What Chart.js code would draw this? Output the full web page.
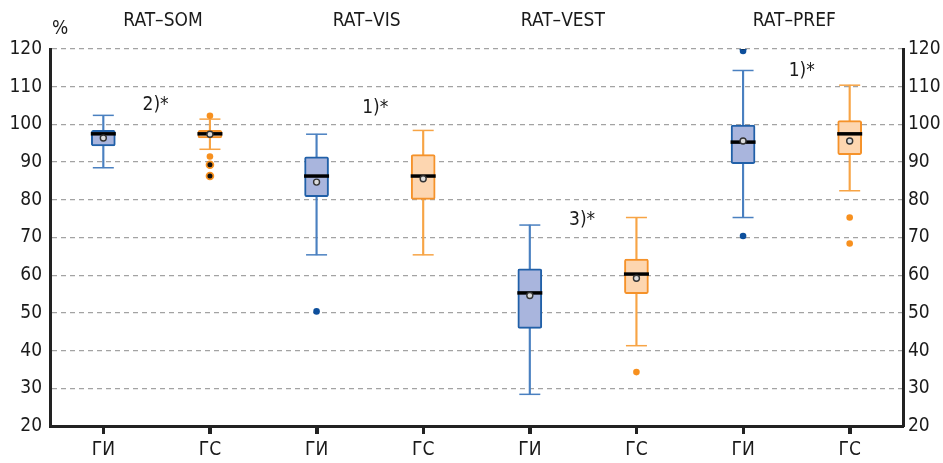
<!DOCTYPE html>
<html>
<head>
<meta charset="utf-8">
<script src="https://cdn.jsdelivr.net/npm/chart.js@4.4.1/dist/chart.umd.min.js"></script>
<style>
  html, body { margin: 0; padding: 0; background: #fff; }
</style>
</head>
<body>
<canvas id="chart" width="943" height="463"></canvas>
<script>
// categories along the x axis (two groups per test)
const categories = ["ГИ", "ГС", "ГИ", "ГС", "ГИ", "ГС", "ГИ", "ГС"];
const groupTitles = ["RAT–SOM", "RAT–VIS", "RAT–VEST", "RAT–PREF"];
const significance = ["2)*", "1)*", "3)*", "1)*"];

// box plot values, %
const whiskerLow = [88.5, 93.4, 65.4, 65.4, 28.4, 41.3, 75.3, 82.4];
const q1 = [94.3, 96.4, 80.8, 80.1, 45.9, 55.1, 89.6, 92.0];
const median = [97.5, 97.5, 86.3, 86.3, 55.3, 60.3, 95.3, 97.5];
const mean = [96.4, 97.4, 84.7, 85.6, 54.6, 59.2, 95.6, 95.6];
const q3 = [98.4, 98.4, 91.4, 92.0, 61.7, 64.3, 99.8, 101.0];
const whiskerHigh = [102.4, 101.4, 97.4, 98.4, 73.3, 75.3, 114.3, 110.4];
const outliers = [[], [102.3, 91.5], [50.4], [], [], [34.3], [119.5, 70.4], [75.3, 68.4]];
const extremes = [[], [89.3, 86.3], [], [], [], [], [120.5], []];

const yMin = 20;
const yMax = 120;
const yStep = 10;

// look
const FONT_FAMILY = "'Liberation Sans Narrow', 'DejaVu Sans Condensed', sans-serif";
const FONT_SIZE = 19;
const TEXT = "#1a1a1a";
const BLUE = { fill: "#a9b5dd", border: "#2160a8", whisker: "#4a80c0", dot: "#0d4f9c" };
const ORANGE = { fill: "#fdd6b0", border: "#f5922a", whisker: "#f7a445", dot: "#f7901e" };
const palette = categories.map((c) => (c === "ГИ" ? BLUE : ORANGE));

// where the texts sit (x in category index, y in %)
const titleAt = [0.56, 2.47, 4.31, 6.48];
const sigAt = [[0.49, 105], [2.55, 104.4], [4.49, 74.7], [6.55, 114.2]];

const idx = categories.map((_, i) => i);

const capPoints = [];
const capColors = [];
idx.forEach((i) => {
  capPoints.push({ x: i, y: whiskerLow[i] }, { x: i, y: whiskerHigh[i] });
  capColors.push(palette[i].whisker, palette[i].whisker);
});

const outlierPoints = [];
const outlierColors = [];
outliers.forEach((list, i) => list.forEach((v) => {
  outlierPoints.push({ x: i, y: v });
  outlierColors.push(palette[i].dot);
}));

const extremePoints = [];
const extremeColors = [];
extremes.forEach((list, i) => list.forEach((v) => {
  extremePoints.push({ x: i, y: v });
  extremeColors.push(palette[i].dot);
}));

const textPlugin = {
  id: "texts",
  afterDraw(chart) {
    const { ctx, chartArea, scales: { x, y } } = chart;
    ctx.save();
    // short tick marks under the category axis
    ctx.strokeStyle = "#222";
    ctx.lineWidth = 3;
    idx.forEach((i) => {
      const px = Math.round(x.getPixelForValue(i)) + 0.5;
      ctx.beginPath();
      ctx.moveTo(px, chartArea.bottom);
      ctx.lineTo(px, chartArea.bottom + 8);
      ctx.stroke();
    });
    ctx.fillStyle = TEXT;
    ctx.font = FONT_SIZE + "px " + FONT_FAMILY;
    ctx.textAlign = "center";
    ctx.textBaseline = "middle";
    groupTitles.forEach((t, i) => {
      ctx.fillText(t, x.getPixelForValue(titleAt[i]), 21);
    });
    significance.forEach((t, i) => {
      ctx.fillText(t, x.getPixelForValue(sigAt[i][0]), y.getPixelForValue(sigAt[i][1]));
    });
    ctx.fillText("%", 60, 29);
    ctx.restore();
  },
};

new Chart(document.getElementById("chart"), {
  type: "bar",
  data: {
    datasets: [
      {
        label: "whiskers",
        data: idx.map((i) => ({ x: i, y: [whiskerLow[i], whiskerHigh[i]] })),
        backgroundColor: palette.map((p) => p.whisker),
        barThickness: 1.5,
        grouped: false,
        order: 6,
      },
      {
        label: "boxes",
        data: idx.map((i) => ({ x: i, y: [q1[i], q3[i]] })),
        backgroundColor: palette.map((p) => p.fill),
        borderColor: palette.map((p) => p.border),
        borderWidth: 2,
        borderSkipped: false,
        borderRadius: 2,
        barThickness: 24,
        grouped: false,
        order: 5,
      },
      {
        type: "scatter",
        label: "caps",
        data: capPoints,
        pointStyle: "line",
        radius: 10.5,
        borderWidth: 1.5,
        borderColor: capColors,
        order: 4,
      },
      {
        type: "scatter",
        label: "median",
        data: idx.map((i) => ({ x: i, y: median[i] })),
        pointStyle: "line",
        radius: 12.5,
        borderWidth: 3.5,
        borderColor: "#000",
        order: 3,
      },
      {
        type: "scatter",
        label: "mean",
        data: idx.map((i) => ({ x: i, y: mean[i] })),
        pointStyle: "circle",
        radius: 3,
        backgroundColor: "#dcdcdc",
        borderColor: "#333",
        borderWidth: 1.4,
        order: 2,
      },
      {
        type: "scatter",
        label: "outliers",
        data: outlierPoints,
        radius: 3.3,
        backgroundColor: outlierColors,
        borderWidth: 0,
        order: 1,
      },
      {
        type: "scatter",
        label: "extremes",
        data: extremePoints,
        radius: 3.4,
        backgroundColor: "#111",
        borderColor: extremeColors,
        borderWidth: 1.8,
        order: 0,
      },
    ],
  },
  options: {
    responsive: false,
    animation: false,
    layout: { padding: { top: 49, left: 0, right: 0, bottom: 0 } },
    plugins: {
      legend: { display: false },
      tooltip: { enabled: false },
    },
    scales: {
      x: {
        type: "linear",
        min: -0.5,
        max: 7.5,
        offset: false,
        afterBuildTicks: (s) => {
          s.ticks = idx.map((i) => ({ value: i }));
        },
        afterFit: (s) => {
          s.height = 37;
        },
        ticks: {
          autoSkip: false,
          maxRotation: 0,
          padding: 5,
          color: TEXT,
          font: { family: FONT_FAMILY, size: FONT_SIZE },
          callback: (v, i) => categories[i],
        },
        grid: {
          offset: false,
          drawOnChartArea: false,
          drawTicks: true,
          tickLength: 8,
          tickWidth: 3,
          tickColor: "#222",
        },
        border: { color: "#222", width: 3 },
      },
      y: {
        position: "left",
        min: yMin,
        max: yMax,
        afterFit: (s) => {
          s.width = 50;
        },
        ticks: {
          stepSize: yStep,
          padding: 8,
          color: TEXT,
          font: { family: FONT_FAMILY, size: FONT_SIZE },
        },
        grid: {
          drawTicks: false,
          lineWidth: 1.3,
          color: (c) => (c.tick && c.tick.value === yMin ? "rgba(0,0,0,0)" : "#a3a3a3"),
        },
        border: { color: "#222", width: 3, dash: [5, 4] },
      },
      y2: {
        position: "right",
        min: yMin,
        max: yMax,
        afterFit: (s) => {
          s.width = 40;
        },
        ticks: {
          stepSize: yStep,
          padding: 5,
          color: TEXT,
          font: { family: FONT_FAMILY, size: FONT_SIZE },
        },
        grid: { drawOnChartArea: false, drawTicks: false },
        border: { color: "#222", width: 3 },
      },
    },
  },
  plugins: [textPlugin],
});
</script>
</body>
</html>
